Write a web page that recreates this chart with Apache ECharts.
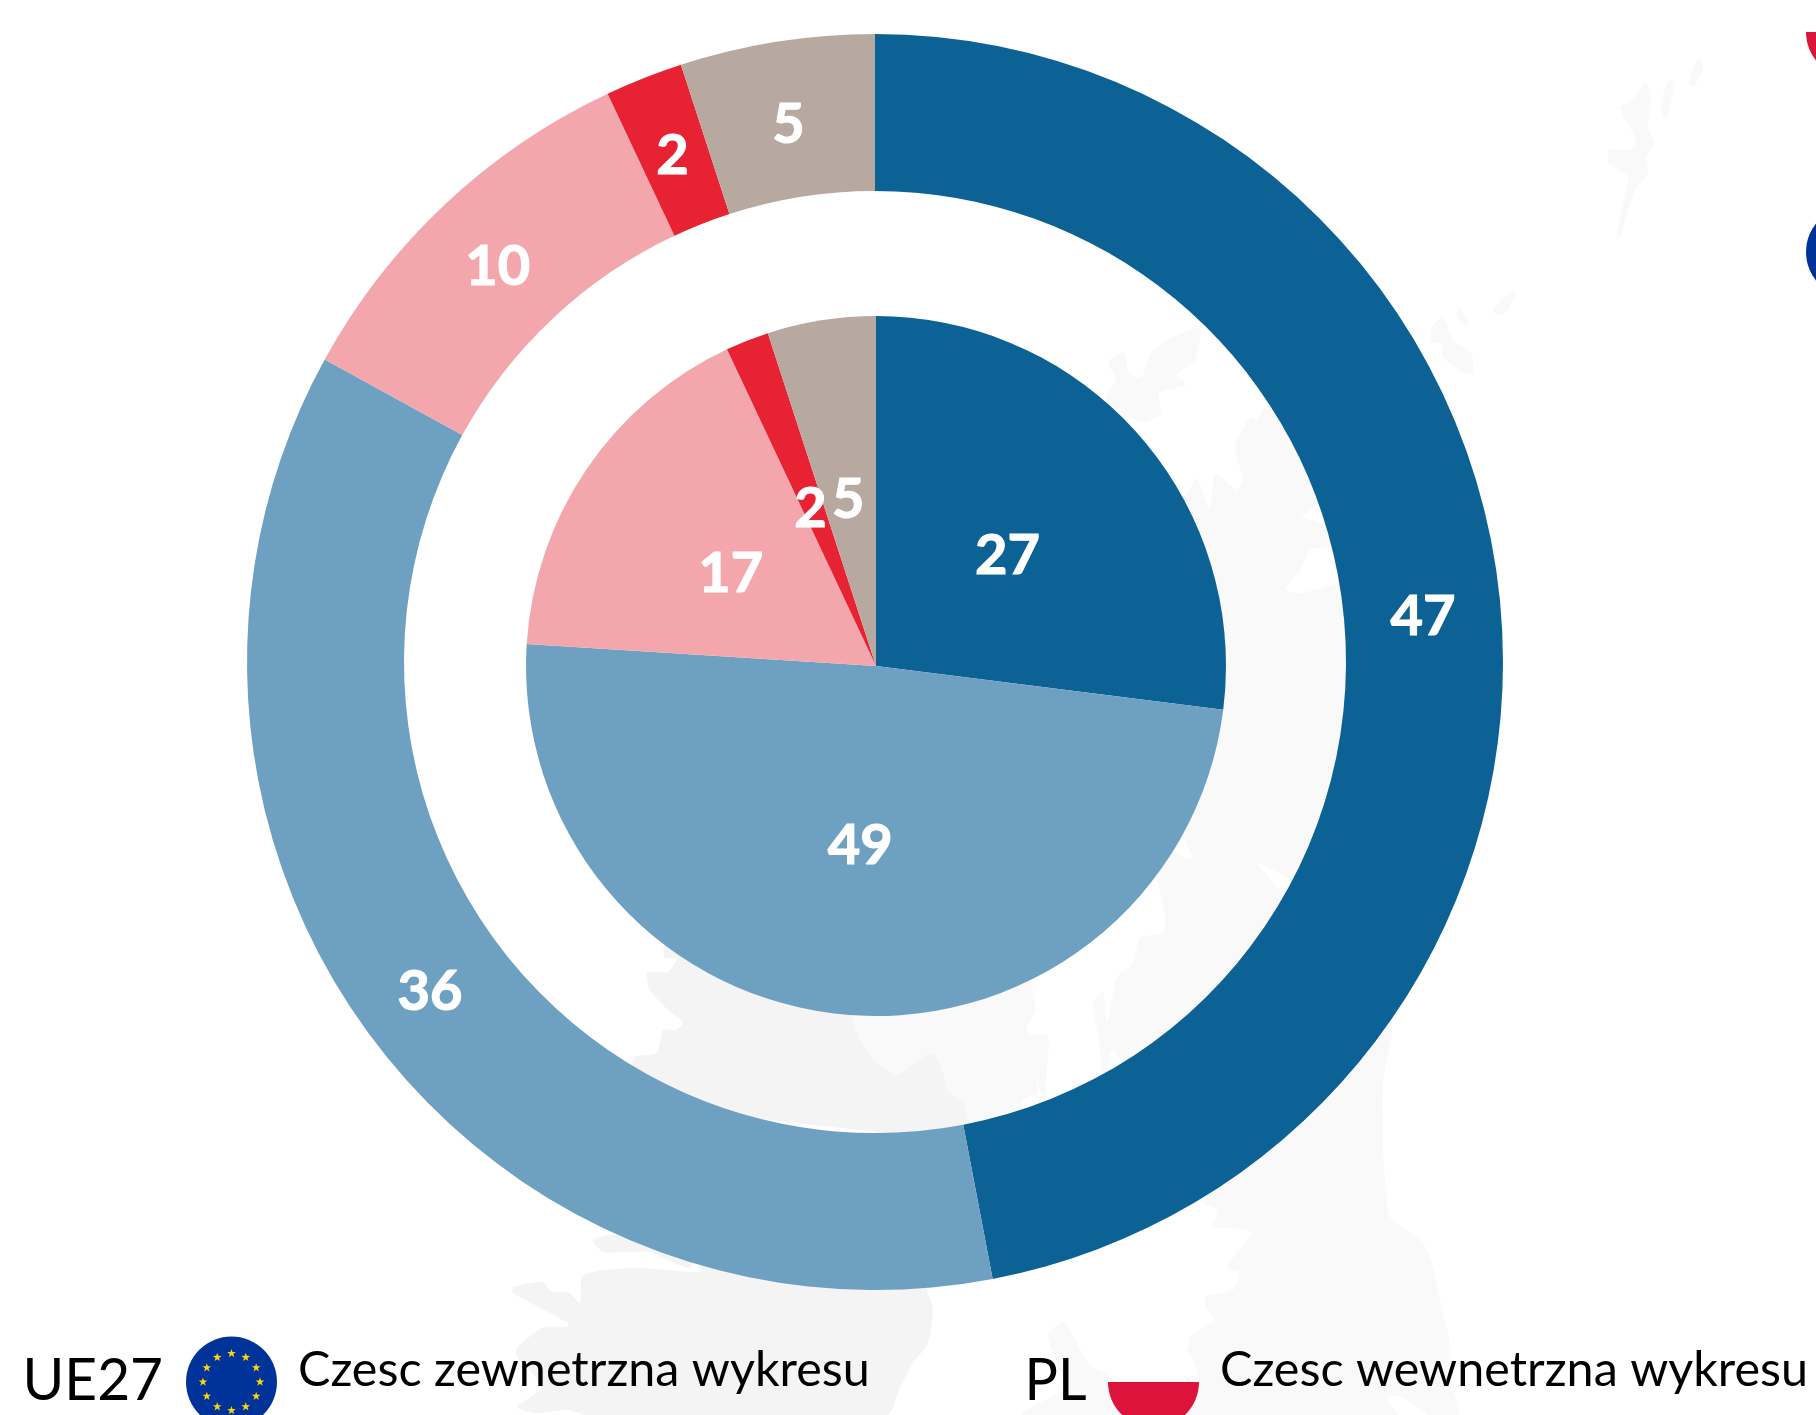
<!DOCTYPE html>
<html>
<head>
<meta charset="utf-8">
<style>html,body{margin:0;padding:0;background:#fff}#c{width:1816px;height:1415px}</style>
<script src="https://cdn.jsdelivr.net/npm/echarts@6/dist/echarts.min.js"></script>
</head>
<body>
<div id="c"></div>
<script>
const categories = ['1', '2', '3', '4', '5'];
const outerValues = [47, 36, 10, 2, 5];
const innerValues = [27, 49, 17, 2, 5];
const sliceColors = ['#0c6295', '#6ea1c1', '#f4a6ad', '#e62233', '#b8a9a0'];
const legendUE = 'UE27';
const legendUEText = 'Czesc zewnetrzna wykresu';
const legendPL = 'PL';
const legendPLText = 'Czesc wewnetrzna wykresu';

// label nudges, one per slice
const outerLabelNudge = [[-2, 6.5], [2, 5], [1, 8], [1, 8], [0, 9]];
const innerLabelNudge = [[-2, 8], [1, 3], [2, 8], [0, 8], [0, 10]];

// faint decorative background map
const mapLight = [
 [[1185,495],[1197,478],[1210,510],[1215,473],[1237,490],[1243,480],[1235,447],[1250,417],[1257,420],[1267,405],[1330,420],[1400,700],[1370,980],[1392,1027],[1383,1083],[1383,1150],[1387,1200],[1390,1217],[1423,1243],[1433,1267],[1440,1300],[1450,1343],[1450,1377],[1457,1415],[1022,1415],[1065,1388],[1060,1370],[1048,1335],[1064,1322],[1078,1345],[1090,1366],[1108,1372],[1187,1350],[1190,1337],[1215,1320],[1207,1310],[1205,1297],[1233,1290],[1240,1272],[1227,1267],[1252,1233],[1233,1228],[1213,1227],[1218,1210],[1203,1203],[1100,1100],[968,1123],[963,1103],[947,1090],[943,1073],[933,1053],[913,1063],[897,1075],[877,1063],[860,1040],[852,1017],[880,700]],
 [[1646,83],[1651,97],[1648,127],[1654,143],[1646,157],[1648,173],[1635,190],[1620,238],[1617,233],[1628,177],[1609,163],[1609,150],[1630,150],[1636,140],[1620,107],[1630,102]],
 [[1674,80],[1669,113],[1664,118],[1661,107],[1667,83]],
 [[1700,58],[1703,70],[1693,87],[1689,83],[1693,67]],
 [[1516,293],[1508,310],[1500,315],[1492,310],[1512,291]],
 [[1458,307],[1469,322],[1464,325],[1457,317]],
 [[1443,317],[1453,340],[1471,353],[1473,373],[1464,373],[1443,357],[1442,343],[1431,343],[1432,327]],
 [[1200,328],[1195,360],[1177,375],[1186,385],[1159,393],[1161,413],[1146,422],[1125,417],[1100,420],[1108,393],[1116,380],[1108,362],[1125,352],[1128,373],[1141,378],[1151,353],[1167,340]]
];
const mapDark = [
 [[665,945],[665,958],[677,958],[668,972],[647,972],[650,990],[670,1012],[683,1022],[677,1030],[663,1030],[657,1053],[633,1058],[640,1100],[968,1140],[968,1123],[963,1103],[947,1090],[943,1073],[933,1053],[913,1063],[897,1075],[877,1063],[860,1040],[852,1017],[840,950]],
 [[593,1240],[610,1235],[700,1240],[690,1268],[650,1252],[603,1252]],
 [[700,1260],[930,1270],[927,1290],[933,1308],[928,1343],[913,1363],[900,1387],[887,1415],[587,1415],[568,1410],[535,1413],[517,1407],[542,1387],[517,1357],[517,1348],[542,1328],[568,1327],[568,1323],[513,1293],[513,1287],[542,1282],[552,1292],[568,1292],[580,1303],[583,1275],[638,1268],[700,1272]]
];
const mapWhite = [
 [[1150,870],[1157,880],[1165,917],[1163,933],[1140,938],[1133,963],[1117,977],[1112,1000],[1107,1022],[1103,992],[1093,1003],[1098,1033],[1100,1085],[1047,1110],[1048,1037],[1028,1033],[1027,1027],[1036,1010],[1033,975]],
 [[1183,837],[1192,859],[1175,852]],
 [[1258,863],[1290,880],[1283,893]],
 [[1302,517],[1318,522],[1335,545],[1310,550],[1302,567],[1285,590],[1300,593],[1345,580],[1360,560],[1330,500]],
 [[1107,1075],[1112,1050],[1122,1063]],
 [[1032,1067],[1038,1093],[1022,1100],[1022,1115],[1045,1110]],
 [[1387,1398],[1400,1396],[1427,1415],[1400,1415]]
];

const stars = [];
function starPoints(cx, cy, R) {
  const p = [];
  for (let i = 0; i < 10; i++) {
    const a = -Math.PI / 2 + i * Math.PI / 5, r = i % 2 ? R * 0.4 : R;
    p.push([cx + r * Math.cos(a), cy + r * Math.sin(a)]);
  }
  return p;
}
for (let i = 0; i < 12; i++) {
  const a = i * Math.PI / 6;
  stars.push({type: 'polygon', z: 5, shape: {points: starPoints(231.5 + 28.5 * Math.sin(a), 1382 - 28.5 * Math.cos(a), 4.6)}, style: {fill: '#ffd20a'}});
}
function mapEls(list, fill, z) {
  return list.map(pts => ({type: 'polygon', z: z, silent: true, shape: {points: pts, smooth: 0.2}, style: {fill: fill}}));
}
function flagPL(cx, cy) {
  return [
    {type: 'circle', z: 4, shape: {cx: cx, cy: cy, r: 45.5}, style: {fill: '#ffffff'}},
    {type: 'sector', z: 5, shape: {cx: cx, cy: cy, r: 45.5, r0: 0, startAngle: 0, endAngle: Math.PI, clockwise: true}, style: {fill: '#dc143c'}}
  ];
}
function legendText(x, y, text, size, sx) {
  return {type: 'text', z: 6, x: x, y: y, scaleX: sx, style: {text: text, fill: '#000', font: size + 'px Lato', textAlign: 'left', textVerticalAlign: 'middle'}};
}
const graphics = [].concat(
  mapEls(mapLight, '#f9f9f9', 1), mapEls(mapDark, '#f4f4f4', 1), mapEls(mapWhite, '#ffffff', 1),
  [{type: 'circle', z: 4, shape: {cx: 231.5, cy: 1382, r: 45.5}, style: {fill: '#003399'}}], stars,
  flagPL(1153.5, 1382),
  [{type: 'circle', z: 4, shape: {cx: 1851.5, cy: 252, r: 45.5}, style: {fill: '#003399'}}],
  flagPL(1851.5, 32),
  [legendText(22.5, 1381, legendUE, 58, 0.98), legendText(298, 1371, legendUEText, 48, 1.01),
   legendText(1024.5, 1381, legendPL, 58, 0.96), legendText(1220, 1371, legendPLText, 48, 1.01)]
);

function pieData(vals, nudges) {
  return categories.map((n, i) => ({name: n, value: vals[i], itemStyle: {color: sliceColors[i]}, label: {offset: nudges[i]}}));
}
const labelStyle = {show: true, position: 'inside', formatter: '{c}', color: '#fff', fontFamily: 'Lato', fontWeight: 'bold', fontSize: 56, textBorderColor: '#fff', textBorderWidth: 1.2};
const chart = echarts.init(document.getElementById('c'), null, {renderer: 'canvas', width: 1816, height: 1415});
chart.setOption({
  animation: false,
  backgroundColor: '#ffffff',
  graphic: {elements: graphics},
  series: [
    {type: 'pie', center: [875, 662], radius: [471, 628], startAngle: 90, data: pieData(outerValues, outerLabelNudge), label: labelStyle, labelLine: {show: false}, emphasis: {disabled: true}, silent: true},
    {type: 'pie', center: [876, 666], radius: [0, 350], startAngle: 90, data: pieData(innerValues, innerLabelNudge), label: labelStyle, labelLine: {show: false}, emphasis: {disabled: true}, silent: true}
  ]
});
</script>
</body>
</html>
